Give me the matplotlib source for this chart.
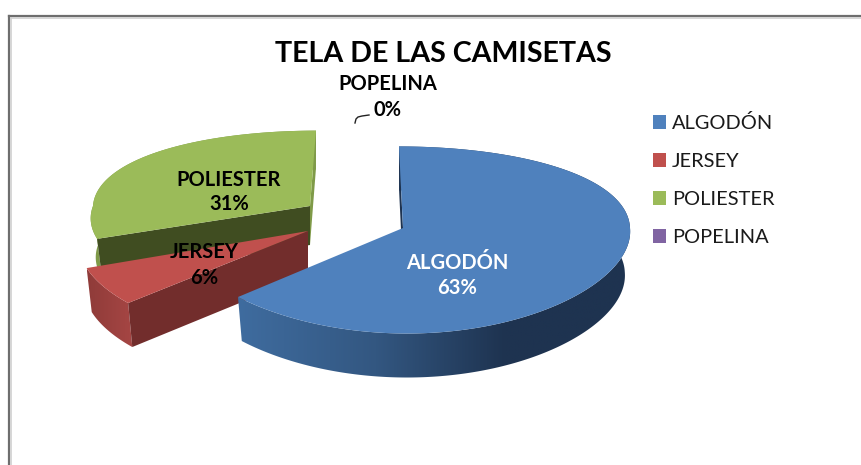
import numpy as np
import matplotlib
matplotlib.use("Agg")
import matplotlib.pyplot as plt
from matplotlib.colors import LinearSegmentedColormap
from matplotlib.patches import Patch, Polygon

plt.rcParams['font.family'] = ['Lato', 'DejaVu Sans']

# data
categories = ['ALGODÓN', 'JERSEY', 'POLIESTER', 'POPELINA']
values = [63, 6, 31, 0]
title = 'TELA DE LAS CAMISETAS'

# slice colours
top_colors = ['#4f81bd', '#c0504d', '#9bbb59', '#8064a2']

# look of each slice: apex x, apex y, radius x, radius y, shear, depth, widening of the front half
looks = [
    (403, 228, 227, 92, -4, 44, 0.02),
    (308, 231, 228, 96, 0, 44, 0.12),
    (310, 206, 217, 85, 6, 39, 0.12),
]
persp = 0.128
shrink = 0.977


def project(look, theta):
    cx, cy, rx, ry, shear, depth, widen = look
    u, v = np.sin(theta), np.cos(theta)
    x = cx + rx * u * (1 - widen * np.minimum(v, 0)) + shear * v
    y = cy - ry * v / (1 + persp * v)
    return np.column_stack([x, y])


def down(pts, look):
    # bottom edge of the wall, a bit narrower than the top
    x = look[0] + (pts[:, 0] - look[0]) * shrink
    return np.column_stack([x, pts[:, 1] + look[5]])


def gradient_fill(ax, pts, colors, zorder):
    # left to right colour ramp clipped to the shape
    cmap = LinearSegmentedColormap.from_list('rim', colors)
    x0, x1 = pts[:, 0].min(), pts[:, 0].max()
    y0, y1 = pts[:, 1].min(), pts[:, 1].max()
    shape = Polygon(pts, closed=True, fc='none', ec='none', zorder=zorder)
    ax.add_patch(shape)
    img = ax.imshow(np.linspace(0, 1, 256)[None, :], cmap=cmap, aspect='auto',
                    extent=(x0, x1, y1, y0), zorder=zorder)
    img.set_clip_path(shape)


fig = plt.figure(figsize=(8.62, 4.65), dpi=100)
ax = fig.add_axes([0, 0, 1, 1])
ax.axis('off')

# frame
ax.plot([9, 9], [465, 16], color='#6e6e6e', lw=1.6, zorder=1)
ax.plot([9, 862], [16, 16], color='#6e6e6e', lw=1.6, zorder=1)
ax.plot([11, 11], [465, 18], color='#d0d0d0', lw=1.2, zorder=1)
ax.plot([11, 862], [18, 18], color='#d0d0d0', lw=1.2, zorder=1)

edges = np.cumsum([0] + values) / sum(values) * 2 * np.pi

# green slice
look = looks[2]
arc = project(look, np.linspace(edges[2], edges[3], 120))
apex = np.array([[look[0], look[1]]])
ax.add_patch(Polygon(np.vstack([arc, down(arc, look)[::-1]]), fc='#7f9a48', ec='none', zorder=2))
cut = np.vstack([apex, arc[:1], down(arc[:1], look), down(apex, look)])
ax.add_patch(Polygon(cut, fc='#404d21', ec='none', zorder=3))
cut = np.vstack([apex, arc[-1:], down(arc[-1:], look), down(apex, look)])
ax.add_patch(Polygon(cut, fc='#7f9a48', ec='none', zorder=3))
ax.add_patch(Polygon(np.vstack([apex, arc]), fc=top_colors[2], ec='none', zorder=4))

# red slice
look = looks[1]
arc = project(look, np.linspace(edges[1], edges[2], 40))
apex = np.array([[look[0], look[1]]])
gradient_fill(ax, np.vstack([arc, down(arc, look)[::-1]]), ['#8f3b39', '#a64644'], 5)
cut = np.vstack([apex, arc[:1], down(arc[:1], look), down(apex, look)])
ax.add_patch(Polygon(cut, fc='#722d2c', ec='none', zorder=6))
ax.add_patch(Polygon(np.vstack([apex, arc]), fc=top_colors[1], ec='none', zorder=7))

# blue slice
look = looks[0]
arc = project(look, np.linspace(edges[0], edges[1], 300))
apex = np.array([[look[0], look[1]]])
rim = np.vstack([arc, down(arc, look)[::-1]])
gradient_fill(ax, rim, [(0, '#3f6c9f'), (0.35, '#335781'), (0.68, '#1e3350'), (1, '#1e3350')], 8)
cut = np.vstack([apex, arc[:1], down(arc[:1], look), down(apex, look)])
ax.add_patch(Polygon(cut, fc='#1e3350', ec='none', zorder=9))
ax.add_patch(Polygon(np.vstack([apex, arc]), fc=top_colors[0], ec='none', zorder=10))

# leader line of the empty slice
ax.plot([355, 356, 358, 362, 369], [123, 119, 117, 116, 115], color='#222222', lw=1, zorder=11)

# labels
ax.text(443, 54, title, fontsize=20.6, fontweight='bold', ha='center', va='center', color='black', zorder=12)
ax.text(388, 84, categories[3], fontsize=14.5, fontweight='bold', ha='center', va='center', zorder=12)
ax.text(388, 110, '%d%%' % values[3], fontsize=14.5, fontweight='bold', ha='center', va='center', zorder=12)
ax.text(229, 180, categories[2], fontsize=14.5, fontweight='bold', ha='center', va='center', zorder=12)
ax.text(229, 204, '%d%%' % values[2], fontsize=14.5, fontweight='bold', ha='center', va='center', zorder=12)
ax.text(204, 252, categories[1], fontsize=14.5, fontweight='bold', ha='center', va='center', zorder=12)
ax.text(204, 278, '%d%%' % values[1], fontsize=14.5, fontweight='bold', ha='center', va='center', zorder=12)
ax.text(457, 263, categories[0], fontsize=14.5, fontweight='bold', ha='center', va='center', color='white', zorder=12)
ax.text(457, 288, '%d%%' % values[0], fontsize=14.5, fontweight='bold', ha='center', va='center', color='white', zorder=12)

# legend
handles = [Patch(fc=c, ec='none', label=n) for c, n in zip(top_colors, categories)]
ax.legend(handles=handles, loc='upper left', bbox_to_anchor=(653, 114), bbox_transform=ax.transData,
          frameon=False, fontsize=14.4, labelspacing=1.05, handlelength=0.65, handleheight=0.65,
          handletextpad=0.3, borderpad=0, borderaxespad=0, labelcolor='#1a1a1a')

ax.set_xlim(0, 862)
ax.set_ylim(465, 0)

plt.savefig('out.png', dpi=100)
